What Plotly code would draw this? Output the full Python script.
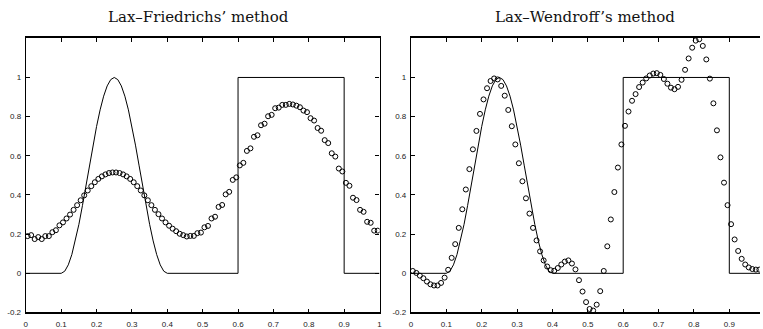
import plotly.graph_objects as go

# ---- data -------------------------------------------------------------
x_pts = [round(0.005 + 0.01 * i, 3) for i in range(100)]

lf_vals = [0.19, 0.195, 0.175, 0.185, 0.175, 0.19, 0.19, 0.21, 0.22, 0.245,
           0.26, 0.28, 0.30, 0.324, 0.348, 0.373, 0.398, 0.423, 0.445, 0.465,
           0.482, 0.495, 0.505, 0.512, 0.515, 0.515, 0.512, 0.505, 0.495, 0.482,
           0.465, 0.445, 0.423, 0.398, 0.373, 0.348, 0.324, 0.302, 0.28, 0.26,
           0.243, 0.228, 0.215, 0.202, 0.195, 0.188, 0.191, 0.191, 0.205, 0.208,
           0.235, 0.242, 0.28, 0.289, 0.339, 0.349, 0.403, 0.416, 0.477, 0.49,
           0.551, 0.564, 0.625, 0.638, 0.697, 0.705, 0.756, 0.764, 0.802, 0.809,
           0.843, 0.846, 0.86, 0.86, 0.865, 0.862, 0.856, 0.848, 0.831, 0.823,
           0.792, 0.78, 0.742, 0.728, 0.68, 0.665, 0.613, 0.596, 0.535, 0.52,
           0.462, 0.447, 0.386, 0.374, 0.324, 0.314, 0.263, 0.258, 0.218, 0.218]

lw_vals = [0.012, 0.002, -0.012, -0.025, -0.042, -0.056, -0.062, -0.062, -0.049, -0.022,
           0.018, 0.079, 0.149, 0.232, 0.327, 0.428, 0.532, 0.633, 0.727, 0.814,
           0.888, 0.945, 0.982, 0.995, 0.99, 0.957, 0.907, 0.834, 0.751, 0.658,
           0.562, 0.47, 0.383, 0.305, 0.232, 0.168, 0.112, 0.066, 0.035, 0.016,
           0.013, 0.027, 0.045, 0.06, 0.066, 0.05, 0.02, -0.035, -0.093, -0.147,
           -0.182, -0.19, -0.16, -0.091, 0.012, 0.138, 0.275, 0.415, 0.54, 0.658,
           0.753, 0.826, 0.881, 0.915, 0.951, 0.974, 0.995, 1.01, 1.02, 1.022,
           1.013, 0.992, 0.968, 0.948, 0.94, 0.952, 0.988, 1.039, 1.097, 1.152,
           1.188, 1.195, 1.161, 1.092, 0.994, 0.868, 0.73, 0.592, 0.463, 0.348,
           0.251, 0.173, 0.114, 0.074, 0.045, 0.03, 0.022, 0.019, 0.019, 0.015]

# exact solution (smooth pulse + square wave)
exact_x = [0.0, 0.10, 0.11, 0.12, 0.13, 0.14, 0.15, 0.16, 0.17, 0.18, 0.19, 0.20,
           0.21, 0.22, 0.23, 0.24, 0.25, 0.26, 0.27, 0.28, 0.29, 0.30, 0.31,
           0.32, 0.33, 0.34, 0.35, 0.36, 0.37, 0.38, 0.39, 0.40,
           0.60, 0.60, 0.90, 0.90, 1.0]
exact_y = [0.0, 0.0, 0.0109, 0.0432, 0.0955, 0.1654, 0.25, 0.3455, 0.4477, 0.5523,
           0.6545, 0.75, 0.8346, 0.9045, 0.9568, 0.9891, 1.0, 0.9891, 0.9568,
           0.9045, 0.8346, 0.75, 0.6545, 0.5523, 0.4477, 0.3455, 0.25, 0.1654,
           0.0955, 0.0432, 0.0109, 0.0,
           0.0, 1.0, 1.0, 0.0, 0.0]

titles = ["Lax\u2013Friedrichs\u2019 method", "Lax\u2013Wendroff\u2019s method"]

x_ticks = [0, 0.1, 0.2, 0.3, 0.4, 0.5, 0.6, 0.7, 0.8, 0.9, 1]
x_tick_text = ["0", "0.1", "0.2", "0.3", "0.4", "0.5", "0.6", "0.7", "0.8", "0.9", "1"]
y_ticks = [-0.2, 0, 0.2, 0.4, 0.6, 0.8, 1, 1.2]
y_tick_text = ["-0.2", "0", "0.2", "0.4", "0.6", "0.8", "1", ""]

# ---- figure -----------------------------------------------------------
W, H = 763, 329
fig = go.Figure()

for k, vals in enumerate([lf_vals, lw_vals]):
    xa = "x" if k == 0 else "x2"
    ya = "y" if k == 0 else "y2"
    fig.add_trace(go.Scatter(x=exact_x, y=exact_y, mode="lines",
                             line=dict(color="black", width=1),
                             xaxis=xa, yaxis=ya, showlegend=False, hoverinfo="skip"))
    fig.add_trace(go.Scatter(x=x_pts, y=vals, mode="markers",
                             marker=dict(symbol="circle-open", size=5, color="black",
                                         line=dict(width=1, color="black")),
                             xaxis=xa, yaxis=ya, showlegend=False, cliponaxis=True))

tick_font = dict(family="Liberation Sans, Arial, sans-serif", size=8, color="#222")
common_x = dict(tickmode="array", tickvals=x_ticks, ticktext=x_tick_text,
                ticks="inside", ticklen=4, tickwidth=1, tickcolor="black",
                showline=True, linecolor="black", linewidth=1.5,
                showgrid=False, zeroline=False, tickfont=tick_font, ticklabelstandoff=3)
common_y = dict(tickmode="array", tickvals=y_ticks, ticktext=y_tick_text,
                range=[-0.2, 1.2], ticks="inside", ticklen=4, tickwidth=1, tickcolor="black",
                showline=True, linecolor="black", linewidth=1.3,
                showgrid=False, zeroline=False, tickfont=tick_font, ticklabelstandoff=2)

L0, L1 = 24.0, 380.0
R0 = 411.7
unit = L1 - L0
yb, yt = 318.3, 39.0

fig.update_layout(
    width=W, height=H,
    margin=dict(l=0, r=0, t=0, b=0),
    paper_bgcolor="white", plot_bgcolor="white",
    xaxis=dict(domain=[L0 / W, L1 / W], range=[0, 1], anchor="y", mirror="ticks", **common_x),
    yaxis=dict(domain=[(H - yb) / H, (H - yt) / H], anchor="x", mirror="ticks", **common_y),
    xaxis2=dict(domain=[R0 / W, 1.0], range=[0, (W - R0) / unit], anchor="y2",
                mirror="ticks", **common_x),
    yaxis2=dict(domain=[(H - yb) / H, (H - yt) / H], anchor="x2", mirror=False, **common_y),
)

title_font = dict(family="DejaVu Serif, serif", size=15, color="#111")
fig.add_annotation(text=titles[0], x=198 / W, y=(H - 17) / H, xref="paper", yref="paper",
                   showarrow=False, xanchor="center", yanchor="middle", font=title_font)
fig.add_annotation(text=titles[1], x=587 / W, y=(H - 17) / H, xref="paper", yref="paper",
                   showarrow=False, xanchor="center", yanchor="middle", font=title_font)

fig.write_html("out.html")
